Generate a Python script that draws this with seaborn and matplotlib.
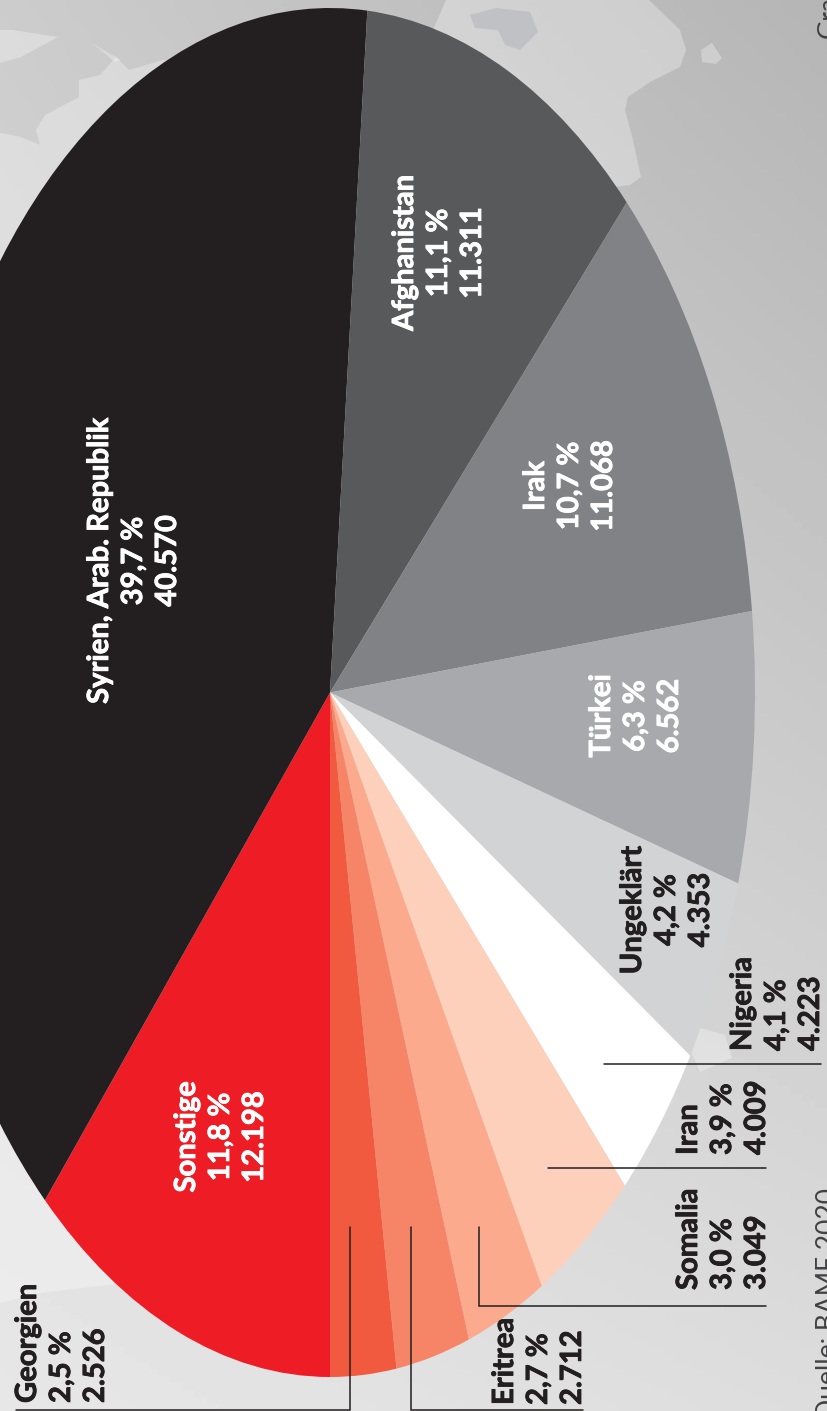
import numpy as np
import matplotlib
matplotlib.use("Agg")
import matplotlib.pyplot as plt
import matplotlib.patheffects as pe
import seaborn as sns

# Werte aus der Grafik
laender = ['Sonstige', 'Syrien, Arab. Republik', 'Afghanistan', 'Irak', 'Türkei', 'Ungeklärt',
           'Nigeria', 'Iran', 'Somalia', 'Eritrea', 'Georgien']
prozent = [11.8, 39.7, 11.1, 10.7, 6.3, 4.2, 4.1, 3.9, 3.0, 2.7, 2.5]
anzahl = [12198, 40570, 11311, 11068, 6562, 4353, 4223, 4009, 3049, 2712, 2526]
# Tortenstuecke wie im Bild gezeichnet, weichen leicht von den Beschriftungen ab
anteil = [11.7, 39.7, 10.9, 10.8, 6.4, 4.4, 3.9, 3.9, 3.0, 2.8, 2.5]
farben = ['#ee1d25', '#231f20', '#58595b', '#808285', '#a7a9ac', '#d1d3d4',
          '#ffffff', '#fdd0bc', '#fbaa8d', '#f68567', '#f25a3f']

W, H = 827, 1411
sns.set_theme(style='white')
plt.rcParams['font.family'] = ['Lato', 'DejaVu Sans']

fig = plt.figure(figsize=(W / 100, H / 100), dpi=100)

# Hintergrund mit Karte, in Pixelkoordinaten
bg = fig.add_axes([0, 0, 1, 1], zorder=0)
yy, xx = np.mgrid[0:1:200j, 0:1:200j]
oben = 0.80 + (0.71 - 0.80) * xx
unten = 0.905 + (0.865 - 0.905) * xx
bg.imshow(oben + (unten - oben) * yy, cmap='gray', vmin=0, vmax=1, extent=[0, W, H, 0], aspect='auto')
land = [
    [(446, 0), (649, 0), (680, 30), (686, 50), (680, 67), (650, 82), (628, 97), (625, 110), (633, 140),
     (641, 177), (630, 185), (500, 200), (400, 100), (433, 30)],
    [(701, 50), (712, 43), (722, 58), (716, 64), (702, 62)],
    [(0, 30), (13, 30), (32, 33), (58, 37), (21, 57), (0, 63)],
    [(92, 43), (100, 48), (121, 60), (115, 62)],
    [(0, 133), (21, 137), (40, 145), (36, 130), (45, 115), (79, 97), (79, 80), (100, 75), (116, 57),
     (129, 70), (163, 60), (200, 60), (200, 1270), (130, 1283), (90, 1287), (40, 1293), (0, 1303)],
    [(690, 1050), (700, 1028), (725, 1035), (732, 1058), (700, 1072)],
]
for poly in land:
    px, py = zip(*poly)
    bg.fill(px, py, color='white', alpha=0.3, lw=0)
bucht = [(470, 15), (496, 8), (530, 12), (538, 32), (520, 50), (505, 45), (498, 30), (475, 28)]
px, py = zip(*bucht)
bg.fill(px, py, color='#c0c1c4', lw=0)
bg.set_xlim(0, W)
bg.set_ylim(H, 0)
bg.axis('off')

# Torte als Ellipse: Achse ragt links aus dem Bild
cx, cy, rx, ry = 330, 692.5, 425, 684.5
ax = fig.add_axes([(cx - rx) / W, 1 - (cy + ry) / H, 2 * rx / W, 2 * ry / H], zorder=1)
ax.pie(anteil, colors=sns.color_palette(farben), startangle=270, counterclock=False,
       radius=1, wedgeprops={'linewidth': 0})
ax.set_aspect('auto')
ax.set_xlim(-1, 1)
ax.set_ylim(-1, 1)

# Beschriftung
top = fig.add_axes([0, 0, 1, 1], zorder=2)
top.set_xlim(0, W)
top.set_ylim(H, 0)
top.axis('off')
top.patch.set_alpha(0)

linien = [
    ([350, 350, 16], [1227, 1410, 1410]),
    ([411, 411, 583], [1227, 1410, 1410]),
    ([479, 479, 766], [1227, 1306, 1306]),
    ([548, 766], [1168, 1168]),
    ([604, 821], [1064, 1064]),
]
for lx, ly in linien:
    top.plot(lx, ly, color='#231f20', lw=1.1, solid_joinstyle='miter')

# x-Mitte des Blocks, y-Position, innen/aussen
pos = [(221, 1137, 'c'), (134, 561, 'c'), (439, 253, 'c'), (570, 486, 'c'), (636, 716, 'c'), (667, 910, 'c'),
       (777, 1051, 'u'), (723, 1155, 'u'), (723, 1290, 'u'), (539, 1405, 'u'), (62, 1403, 'u')]
for i, name in enumerate(laender):
    zahl = f'{anzahl[i]:,}'.replace(',', '.')
    pct = f'{prozent[i]:.1f} %'.replace('.', ',')
    txt = f'{name}\n{pct}\n{zahl}'
    x, y, art = pos[i]
    farbe = 'white' if i < 5 else '#231f20'
    t = top.text(x, y, txt, rotation=90, ha='center', va='center' if art == 'c' else 'bottom',
                 multialignment='center' if art == 'c' else 'left',
                 color=farbe, fontsize=21, fontweight='bold', linespacing=1.38)
    t.set_path_effects([pe.withStroke(linewidth=0.6, foreground=farbe)])

top.text(829, 1420, 'Quelle: BAMF 2020', rotation=90, ha='center', va='bottom', color='#414042', fontsize=19, clip_on=True)
top.text(829, 38, 'Gra', rotation=90, ha='center', va='bottom', color='#414042', fontsize=19, clip_on=True)

fig.savefig('out.png', dpi=100)
